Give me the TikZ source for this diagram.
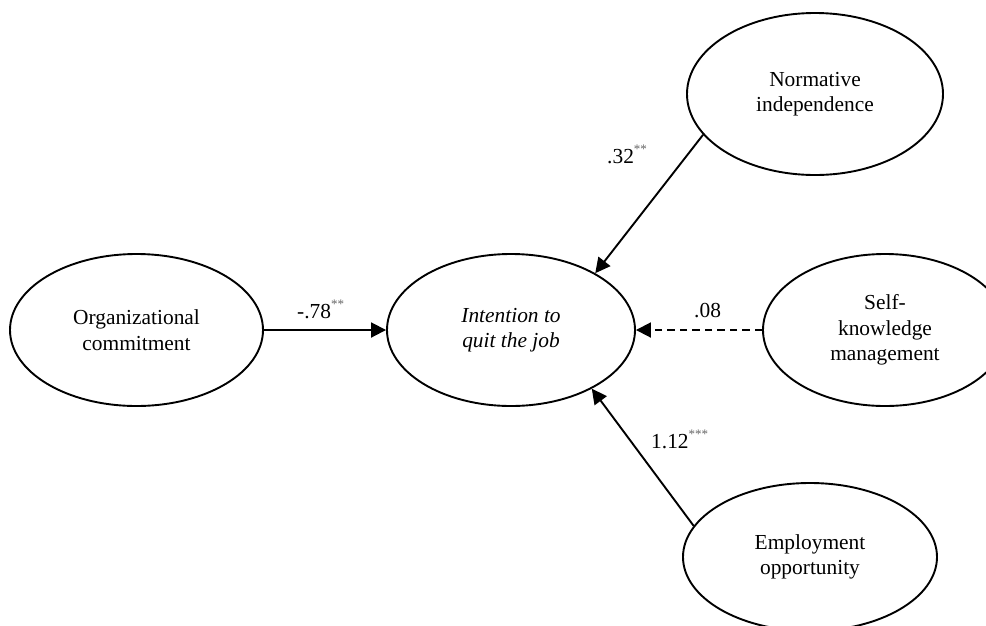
\documentclass[tikz,border=0pt]{standalone}
\usepackage{fontspec}
\setmainfont{Liberation Serif}
\usetikzlibrary{shapes.geometric,arrows.meta}
\newcommand\sigstars[1]{\raisebox{0.45em}{\fontsize{13}{13}\selectfont\color{black!60}#1}}
\begin{document}
\begin{tikzpicture}[x=1pt,y=-1pt,
  latent/.style={draw, ellipse, line width=1.9pt, inner sep=0pt, align=center,
    font=\fontsize{21.4}{25.5}\selectfont},
  pathline/.style={line width=1.9pt, -{Triangle[length=15pt,width=15pt]}},
  dashline/.style={dash pattern=on 7.5pt off 5pt},
  lbl/.style={anchor=base west, inner sep=0pt, font=\fontsize{21.4}{25.5}\selectfont}]
\clip (0,0) rectangle (986,625);
\fill[white] (0,0) rectangle (986,625);
\node[latent, minimum width=253pt, minimum height=152pt] (oc) at (136.5,330) {Organizational\\commitment};
\node[latent, minimum width=248pt, minimum height=152pt] (iq) at (511,330) {\itshape Intention to\\\itshape quit the job};
\node[latent, minimum width=256pt, minimum height=162pt] (ni) at (815,94) {Normative\\independence};
\node[latent, minimum width=244pt, minimum height=152pt] (sk) at (885,330) {Self-\\knowledge\\management};
\node[latent, minimum width=254pt, minimum height=148pt] (eo) at (810,557) {Employment\\opportunity};
\draw[pathline] (oc.east) -- (iq.west);
\draw[pathline] (ni.200) -- (iq.34);
\draw[pathline, dashline] (sk.west) -- (iq.east);
\draw[pathline] (eo.165) -- (iq.-36);
\node[lbl] (l1) at (297,318) {-.78\sigstars{**}};
\node[lbl] (l2) at (607,163) {.32\sigstars{**}};
\node[lbl] (l3) at (694,317) {.08};
\node[lbl] (l4) at (651,448) {1.12\sigstars{***}};
\end{tikzpicture}
\end{document}
